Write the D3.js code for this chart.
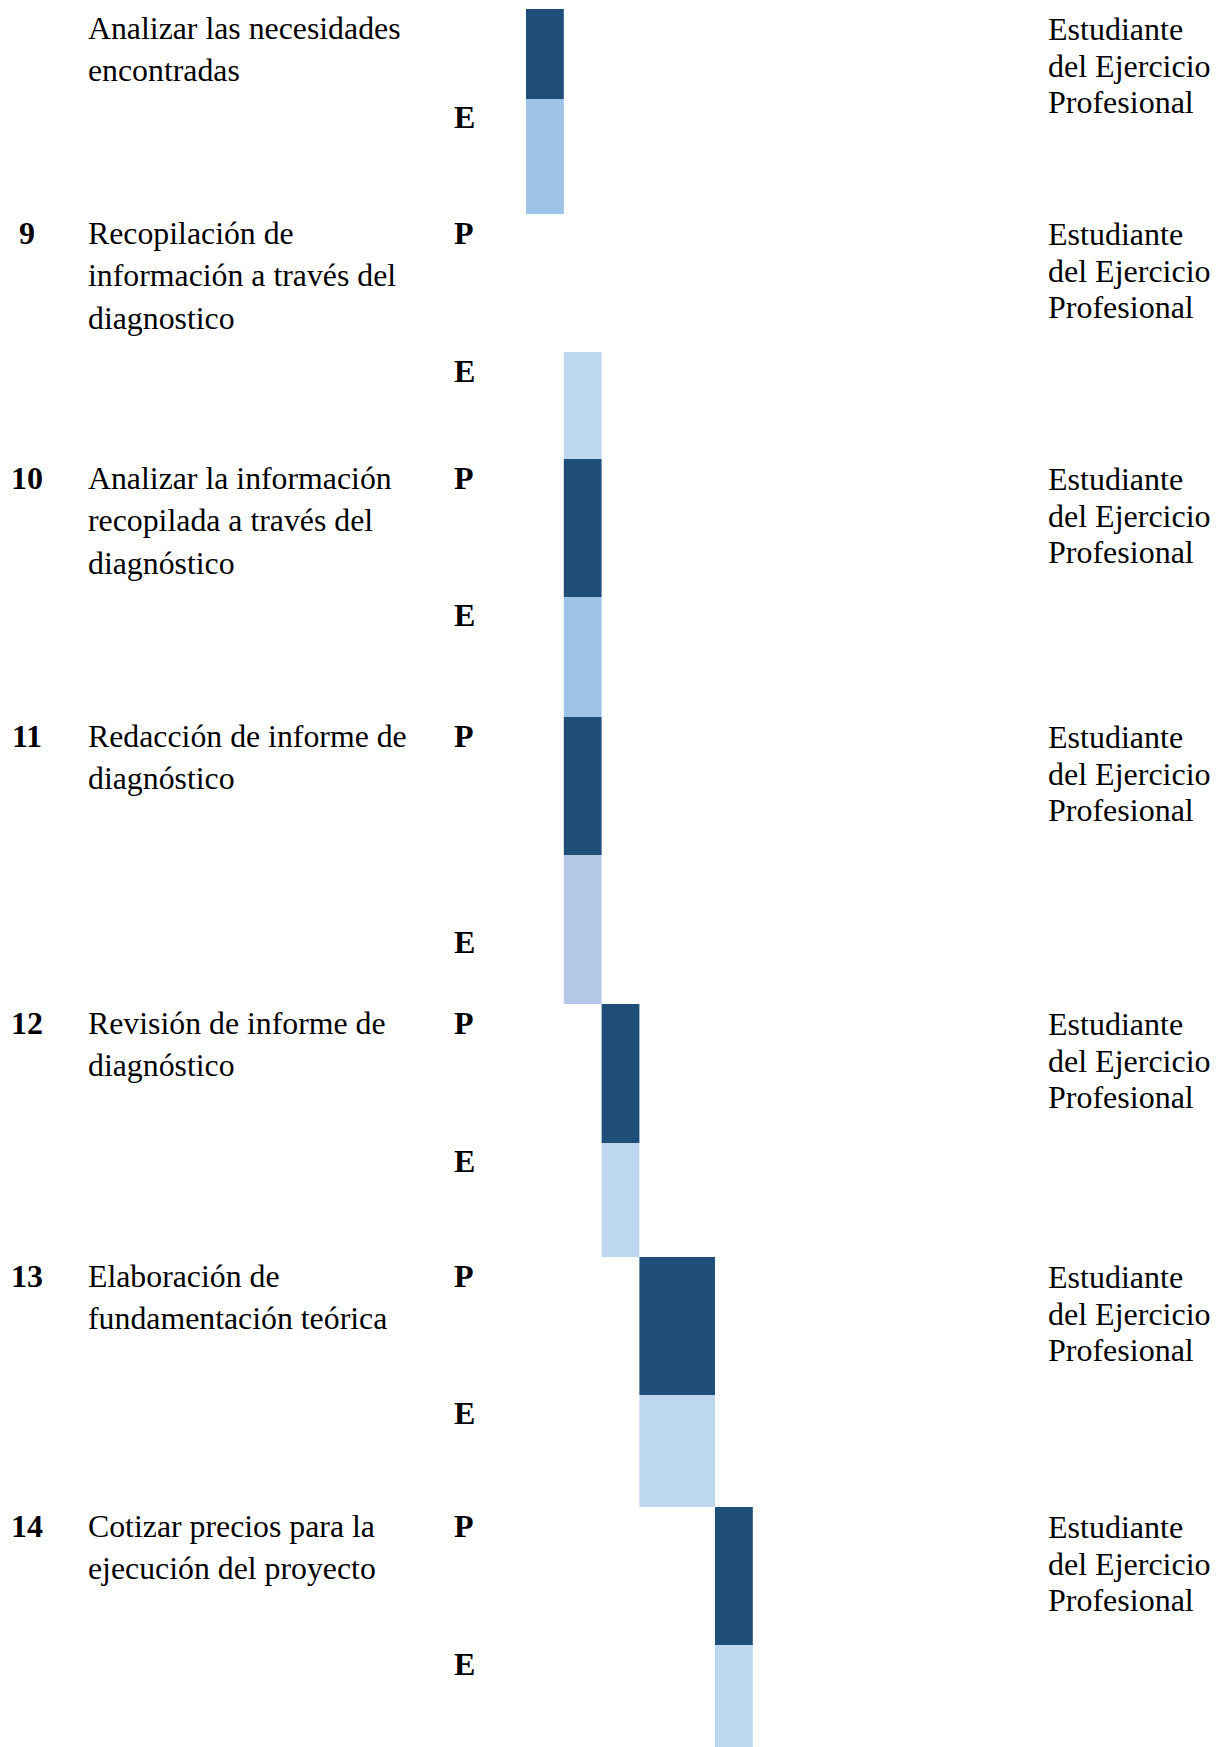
<!DOCTYPE html>
<html>
<head>
<meta charset="utf-8">
<script src="https://cdn.jsdelivr.net/npm/d3@7"></script>
<style>
  html, body { margin: 0; padding: 0; background: #ffffff; }
  svg { display: block; }
</style>
</head>
<body>
<script>
// ---------------- DATA ----------------
const taskIds      = ["8", "9", "10", "11", "12", "13", "14"];
const numberShown  = [false, true, true, true, true, true, true];
const planLetterShown = [false, true, true, true, true, true, true];
const taskLines = [
  ["Analizar las necesidades", "encontradas"],
  ["Recopilación de", "información a través del", "diagnostico"],
  ["Analizar la información", "recopilada a través del", "diagnóstico"],
  ["Redacción de informe de", "diagnóstico"],
  ["Revisión de informe de", "diagnóstico"],
  ["Elaboración de", "fundamentación teórica"],
  ["Cotizar precios para la", "ejecución del proyecto"]
];
const responsibleLines = ["Estudiante", "del Ejercicio", "Profesional"];
// week-column index (start inclusive, end exclusive); null = no bar
const plannedStart  = [0, null, 1, 1, 2, 3, 5];
const plannedEnd    = [1, null, 2, 2, 3, 5, 6];
const executedStart = [0, 1, 1, 1, 2, 3, 5];
const executedEnd   = [1, 2, 2, 2, 3, 5, 6];
const weekColumns = [0, 1, 2, 3, 4, 5, 6];

// ---------------- STYLE / LAYOUT ----------------
const plannedFill = "#1F4E79";
const executedFill = ["#9DC3E6", "#BDD7EE", "#9DC3E6", "#B4C7E7", "#BDD7EE", "#BDD7EE", "#BDD7EE"];
const rowP = [90, 138, 138, 138, 139, 138, 138];   // heights of P sub-rows
const rowE = [115, 107, 120, 149, 114, 112, 130];  // heights of E sub-rows
const eLabelOffset = [29, 30, 29, 98, 29, 29, 30];
const topY = 9;

const W = 1227, H = 1747;
const svg = d3.select("body").append("svg").attr("width", W).attr("height", H);

const x = d3.scaleBand().domain(weekColumns).range([526, 526 + 37.8 * weekColumns.length]).padding(0);

// compute sub-row tops
const pTop = [], eTop = [];
let cy = topY;
taskIds.forEach((d, i) => {
  pTop.push(cy); cy += rowP[i];
  eTop.push(cy); cy += rowE[i];
});

const serif = "'Liberation Serif', 'Times New Roman', serif";

// bars
const g = svg.append("g");
taskIds.forEach((id, i) => {
  if (plannedStart[i] !== null) {
    g.append("rect")
      .attr("x", x(plannedStart[i]))
      .attr("width", x(plannedEnd[i]) - x(plannedStart[i]))
      .attr("y", pTop[i]).attr("height", rowP[i])
      .attr("fill", plannedFill);
  }
  if (executedStart[i] !== null) {
    g.append("rect")
      .attr("x", x(executedStart[i]))
      .attr("width", x(executedEnd[i]) - x(executedStart[i]))
      .attr("y", eTop[i]).attr("height", rowE[i])
      .attr("fill", executedFill[i]);
  }
});

// text
const t = svg.append("g").attr("font-family", serif).attr("fill", "#000");
taskIds.forEach((id, i) => {
  const base = pTop[i] + 30;
  if (numberShown[i]) {
    t.append("text").attr("x", 27).attr("y", base).attr("text-anchor", "middle")
      .attr("font-weight", "bold").attr("font-size", 32).text(id);
  }
  taskLines[i].forEach((line, k) => {
    t.append("text").attr("x", 88).attr("y", base + k * 42.3)
      .attr("font-size", 31.8).text(line);
  });
  if (planLetterShown[i]) {
    t.append("text").attr("x", 454).attr("y", base)
      .attr("font-weight", "bold").attr("font-size", 32).text("P");
  }
  t.append("text").attr("x", 454).attr("y", eTop[i] + eLabelOffset[i])
    .attr("font-weight", "bold").attr("font-size", 32).text("E");
  responsibleLines.forEach((line, k) => {
    t.append("text").attr("x", 1048).attr("y", base + 1 + k * 36.5)
      .attr("font-size", 32).text(line);
  });
});
</script>
</body>
</html>
